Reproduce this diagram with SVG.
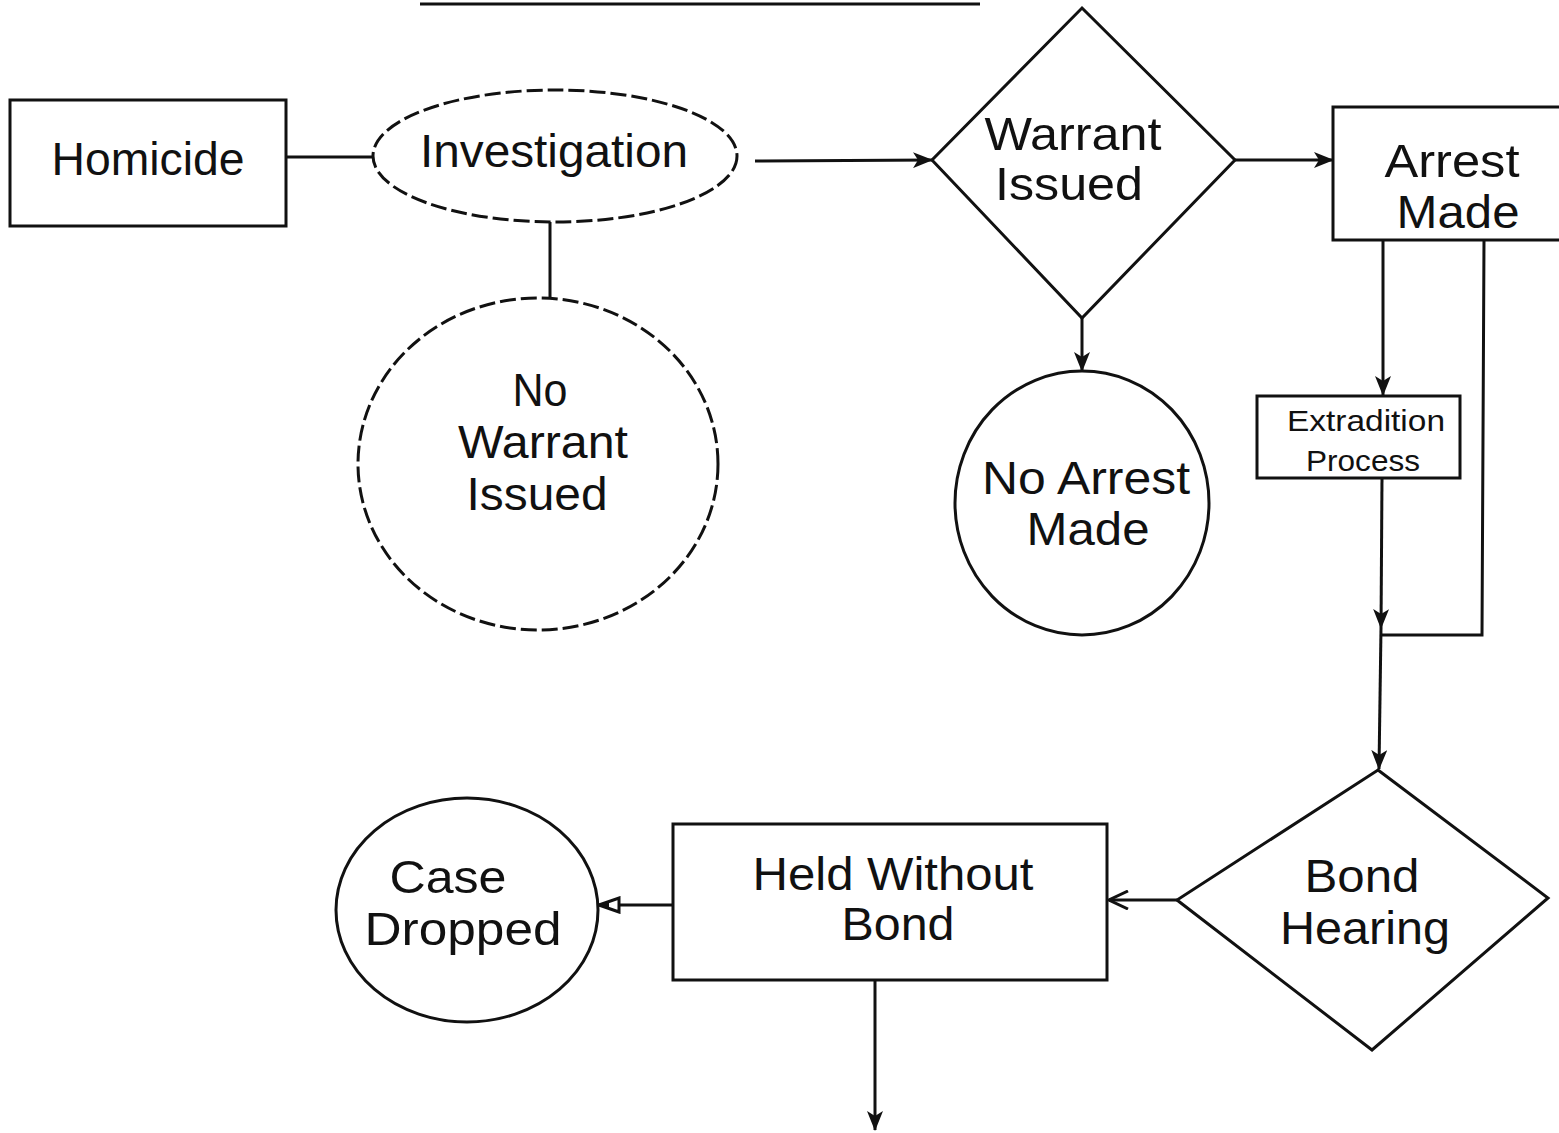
<svg xmlns="http://www.w3.org/2000/svg" width="1559" height="1133" viewBox="0 0 1559 1133">
  <style>
    .shape { fill: #ffffff; stroke: #111111; stroke-width: 3; }
    .dashed { stroke-dasharray: 16 5; }
    .link { fill: none; stroke: #111111; stroke-width: 3; }
    .label { font-family: "Liberation Sans", Arial, sans-serif; fill: #111111; text-anchor: middle; }
    .big { font-size: 46px; }
    .small { font-size: 29px; }
  </style>
  <defs>
    <marker id="solid" viewBox="0 0 20 16" refX="19" refY="8" markerWidth="20" markerHeight="16" markerUnits="userSpaceOnUse" orient="auto">
      <path d="M0,0 L20,8 L0,16 L5,8 Z" fill="#111111"/>
    </marker>
    <marker id="vee" viewBox="0 0 22 20" refX="21" refY="10" markerWidth="22" markerHeight="20" markerUnits="userSpaceOnUse" orient="auto">
      <path d="M2,1 L21,10 L2,19" fill="none" stroke="#111111" stroke-width="3"/>
    </marker>
    <marker id="hollow" viewBox="0 0 24 18" refX="23" refY="9" markerWidth="24" markerHeight="18" markerUnits="userSpaceOnUse" orient="auto">
      <path d="M2,2 L22,9 L2,16 Z" fill="#ffffff" stroke="#111111" stroke-width="3"/>
      <path d="M12,5 L23,9 L12,13 Z" fill="#111111"/>
    </marker>
  </defs>
  <rect width="1559" height="1133" fill="#ffffff"/>

  <!-- heading underline at the top edge -->
  <line x1="420" y1="4" x2="980" y2="4" stroke="#111111" stroke-width="3"/>

  <!-- connectors -->
  <g id="connectors">
    <line class="link" x1="286" y1="157" x2="374" y2="157"/>
    <line class="link" x1="550" y1="222" x2="550" y2="298"/>
    <line class="link" x1="755" y1="161" x2="932" y2="160" marker-end="url(#solid)"/>
    <line class="link" x1="1235" y1="160" x2="1333" y2="160" marker-end="url(#solid)"/>
    <line class="link" x1="1082" y1="318" x2="1082" y2="371" marker-end="url(#solid)"/>
    <line class="link" x1="1383" y1="240" x2="1383" y2="395" marker-end="url(#solid)"/>
    <polyline class="link" points="1484,240 1482,635 1381,635"/>
    <line class="link" x1="1382" y1="478" x2="1381" y2="628" marker-end="url(#solid)"/>
    <line class="link" x1="1381" y1="628" x2="1379" y2="769" marker-end="url(#solid)"/>
    <line class="link" x1="1177" y1="900" x2="1109" y2="900" marker-end="url(#vee)"/>
    <line class="link" x1="673" y1="905" x2="598" y2="905" marker-end="url(#hollow)"/>
    <line class="link" x1="875" y1="980" x2="875" y2="1130" marker-end="url(#solid)"/>
  </g>

  <g id="homicide">
    <rect class="shape" x="10" y="100" width="276" height="126"/>
    <text class="label big" x="148" y="175" textLength="193" lengthAdjust="spacingAndGlyphs">Homicide</text>
  </g>

  <g id="investigation">
    <ellipse class="shape dashed" cx="555" cy="156" rx="182" ry="66"/>
    <text class="label big" x="554" y="167" textLength="268" lengthAdjust="spacingAndGlyphs">Investigation</text>
  </g>

  <g id="no-warrant">
    <ellipse class="shape dashed" cx="538" cy="464" rx="180" ry="166"/>
    <text class="label big" x="540" y="406" textLength="55" lengthAdjust="spacingAndGlyphs">No</text>
    <text class="label big" x="543" y="458" textLength="170" lengthAdjust="spacingAndGlyphs">Warrant</text>
    <text class="label big" x="537" y="510" textLength="141" lengthAdjust="spacingAndGlyphs">Issued</text>
  </g>

  <g id="warrant-issued">
    <polygon class="shape" points="1082,8 1235,160 1082,318 932,160"/>
    <text class="label big" x="1073" y="150" textLength="177" lengthAdjust="spacingAndGlyphs">Warrant</text>
    <text class="label big" x="1069" y="200" textLength="148" lengthAdjust="spacingAndGlyphs">Issued</text>
  </g>

  <g id="arrest-made">
    <rect class="shape" x="1333" y="107" width="240" height="133"/>
    <text class="label big" x="1452" y="177" textLength="135" lengthAdjust="spacingAndGlyphs">Arrest</text>
    <text class="label big" x="1458" y="228" textLength="123" lengthAdjust="spacingAndGlyphs">Made</text>
  </g>

  <g id="no-arrest">
    <ellipse class="shape" cx="1082" cy="503" rx="127" ry="132"/>
    <text class="label big" x="1086" y="494" textLength="208" lengthAdjust="spacingAndGlyphs">No Arrest</text>
    <text class="label big" x="1088" y="545" textLength="123" lengthAdjust="spacingAndGlyphs">Made</text>
  </g>

  <g id="extradition">
    <rect class="shape" x="1257" y="396" width="203" height="82"/>
    <text class="label small" x="1366" y="431" textLength="158" lengthAdjust="spacingAndGlyphs">Extradition</text>
    <text class="label small" x="1363" y="471" textLength="114" lengthAdjust="spacingAndGlyphs">Process</text>
  </g>

  <g id="bond-hearing">
    <polygon class="shape" points="1378,770 1548,898 1372,1050 1177,900"/>
    <text class="label big" x="1362" y="892" textLength="115" lengthAdjust="spacingAndGlyphs">Bond</text>
    <text class="label big" x="1365" y="944" textLength="170" lengthAdjust="spacingAndGlyphs">Hearing</text>
  </g>

  <g id="held-without-bond">
    <rect class="shape" x="673" y="824" width="434" height="156"/>
    <text class="label big" x="893" y="890" textLength="281" lengthAdjust="spacingAndGlyphs">Held Without</text>
    <text class="label big" x="898" y="940" textLength="113" lengthAdjust="spacingAndGlyphs">Bond</text>
  </g>

  <g id="case-dropped">
    <ellipse class="shape" cx="467" cy="910" rx="131" ry="112"/>
    <text class="label big" x="448" y="893" textLength="117" lengthAdjust="spacingAndGlyphs">Case</text>
    <text class="label big" x="463" y="945" textLength="197" lengthAdjust="spacingAndGlyphs">Dropped</text>
  </g>
</svg>
